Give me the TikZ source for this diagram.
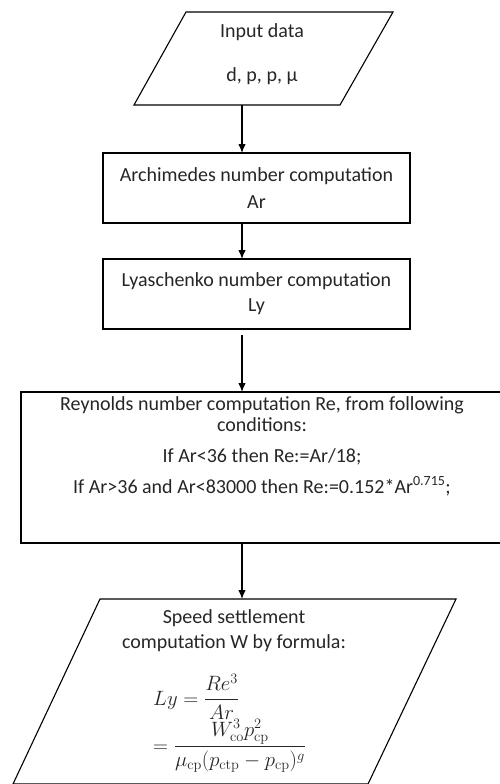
\documentclass[tikz,border=0pt]{standalone}
\usepackage{amsmath}
\usepackage[no-math]{fontspec}
\setmainfont{Carlito}
\usetikzlibrary{arrows.meta}
\usetikzlibrary{positioning}

\begin{document}
\begin{tikzpicture}[x=1pt,y=-1pt,>={Latex[length=9pt,width=7.5pt]},
  box/.style={draw,line width=1.1pt,inner sep=0pt,outer sep=0pt},
  txt/.style={align=center,font=\fontsize{20}{21}\selectfont,text=black!85},
  eq/.style={txt,inner sep=0pt,anchor=base west},
  flow/.style={->,line width=1.1pt}]

\useasboundingbox (0,0) rectangle (500,784);
\coordinate (axis) at (242,0);

% input parallelogram
\draw [box] (134,105) -- (186,12) -- (393,12) -- (340,105) -- cycle;
\coordinate (input) at (263,105);
\node (inputtxt) [txt] at (262,54) {Input data\\[23pt]d, p, p, μ};

\node (ar) [box,txt,minimum width=307pt,minimum height=70pt] at (256.5,188)
  {Archimedes number computation\\[6pt]Ar};
\node (ly) [box,txt,minimum width=307pt,minimum height=70pt] at (256.5,294)
  {Lyaschenko number computation\\[4pt]Ly};

\node (reyn) [box,minimum width=484pt,minimum height=151pt] at (263,467.5) {};
\node (reyntxt) [txt] at (262,446)
  {Reynolds number computation Re, from following\\conditions:\\[10pt]
   If Ar<36 then Re:=Ar/18;\\[10pt]
   If Ar>36 and Ar<83000 then Re:=0.152*Ar\textsuperscript{0.715};};

% output parallelogram
\draw [box] (13,784) -- (100,599) -- (456,599) -- (368,784) -- cycle;
\coordinate (speed) at (278,599);
\node (speedtxt) [txt] at (234,631) {Speed settlement\\[4pt]computation W by formula:};
\node (formula) [eq] at (153,705)
  {$\begin{array}[t]{@{}l@{}}
     Ly=\dfrac{Re^3}{Ar}\\[6pt]
     =\dfrac{W_{\mathrm{co}}^3p_{\mathrm{cp}}^2}{\mu_{\mathrm{cp}}(p_{\mathrm{ctp}}-p_{\mathrm{cp}})^g}
   \end{array}$};

\draw [flow] (axis |- input) -- (axis |- ar.north);
\draw [flow] (axis |- ar.south) -- (axis |- ly.north);
\draw [flow,shorten <=6pt] (axis |- ly.south) -- (axis |- reyn.north);
\draw [flow] (axis |- reyn.south) -- (axis |- speed);

\end{tikzpicture}
\end{document}
